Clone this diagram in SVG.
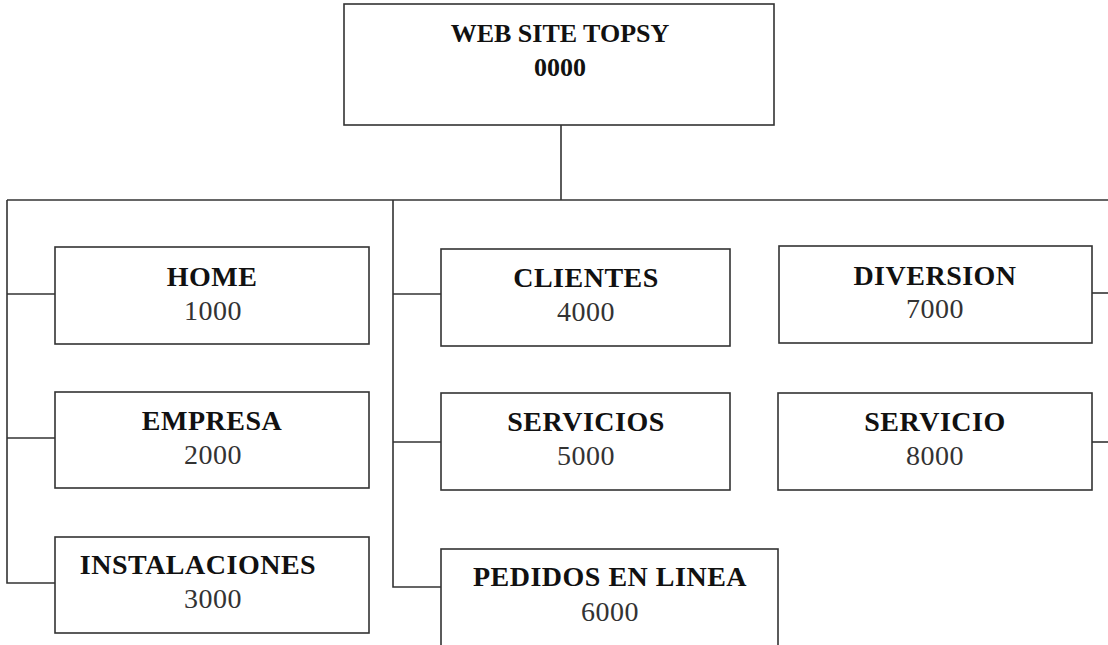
<svg xmlns="http://www.w3.org/2000/svg" width="1108" height="645" viewBox="0 0 1108 645">
<style>
.box{fill:#fff;stroke:#333;stroke-width:1.6}
.ln{fill:none;stroke:#333;stroke-width:1.6}
.h{font-family:"Liberation Serif","Times New Roman",serif;font-size:26px;font-weight:bold;fill:#111;text-anchor:middle}
.t{font-family:"Liberation Serif","Times New Roman",serif;font-size:28px;font-weight:bold;letter-spacing:0.5px;fill:#111;text-anchor:middle}
.n{font-family:"Liberation Serif","Times New Roman",serif;font-size:28px;letter-spacing:0.5px;fill:#333;text-anchor:middle}
</style>
<rect width="1108" height="645" fill="#fff"/>
<g id="connectors">
<line class="ln" x1="561" y1="125" x2="561" y2="200"/>
<line class="ln" x1="7" y1="200" x2="1108" y2="200"/>
<polyline class="ln" points="7,200 7,583 55,583"/>
<line class="ln" x1="7" y1="294" x2="55" y2="294"/>
<line class="ln" x1="7" y1="438" x2="55" y2="438"/>
<polyline class="ln" points="393,200 393,587 441,587"/>
<line class="ln" x1="393" y1="294" x2="441" y2="294"/>
<line class="ln" x1="393" y1="442" x2="441" y2="442"/>
<line class="ln" x1="1092" y1="293" x2="1108" y2="293"/>
<line class="ln" x1="1092" y1="442" x2="1108" y2="442"/>
</g>
<g id="n0000">
<rect class="box" x="344" y="4" width="430" height="121"/>
<text class="h" x="560" y="42">WEB SITE TOPSY</text>
<text class="h" x="560" y="76">0000</text>
</g>
<g id="n1000">
<rect class="box" x="55" y="247" width="314" height="97"/>
<text class="t" x="212" y="286">HOME</text>
<text class="n" x="213" y="320">1000</text>
</g>
<g id="n2000">
<rect class="box" x="55" y="392" width="314" height="96"/>
<text class="t" x="212" y="430">EMPRESA</text>
<text class="n" x="213" y="464">2000</text>
</g>
<g id="n3000">
<rect class="box" x="55" y="537" width="314" height="96"/>
<text class="t" x="198" y="574">INSTALACIONES</text>
<text class="n" x="213" y="608">3000</text>
</g>
<g id="n4000">
<rect class="box" x="441" y="249" width="289" height="97"/>
<text class="t" x="586" y="287">CLIENTES</text>
<text class="n" x="586" y="321">4000</text>
</g>
<g id="n5000">
<rect class="box" x="441" y="393" width="289" height="97"/>
<text class="t" x="586" y="431">SERVICIOS</text>
<text class="n" x="586" y="465">5000</text>
</g>
<g id="n6000">
<rect class="box" x="441" y="549" width="337" height="100"/>
<text class="t" x="610" y="586">PEDIDOS EN LINEA</text>
<text class="n" x="610" y="621">6000</text>
</g>
<g id="n7000">
<rect class="box" x="779" y="246" width="313" height="97"/>
<text class="t" x="935" y="285">DIVERSION</text>
<text class="n" x="935" y="318">7000</text>
</g>
<g id="n8000">
<rect class="box" x="778" y="393" width="314" height="97"/>
<text class="t" x="935" y="431">SERVICIO</text>
<text class="n" x="935" y="465">8000</text>
</g>
</svg>
